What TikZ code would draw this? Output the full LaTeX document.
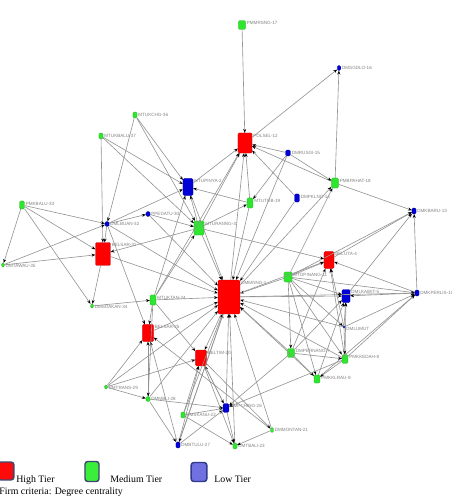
\documentclass[tikz,border=0pt]{standalone}
\usepackage{fontspec}
\setmainfont{Liberation Serif}
\setsansfont{Liberation Sans}
\usetikzlibrary{arrows.meta}
\begin{document}
\begin{tikzpicture}[x=0.02cm, y=-0.02cm,
  sz/.style 2 args={minimum width=#1, minimum height=#2},
  firm/.style={rectangle, rounded corners=0.7pt, inner sep=0pt, line width=0.15pt},
  hi/.style={firm, fill=tierhigh, draw=tierhigh!75!black},
  med/.style={firm, fill=tiermed, draw=tiermed!75!black},
  lo/.style={firm, fill=tierlow, draw=tierlow!75!black},
  lbl/.style={font=\sffamily\fontsize{2.6}{3}\selectfont, text=gray, inner sep=0.5pt, anchor=north west},
  link/.style={draw=gray!85, line width=0.35pt, -{Stealth[length=2.2pt,width=1.7pt,black]}},
  key/.style={rectangle, rounded corners=1.6pt, line width=0.8pt},
  keytext/.style={font=\fontsize{5.6}{6}\selectfont, anchor=base west, inner sep=0pt}]
\definecolor{tierhigh}{RGB}{255,0,0}
\definecolor{tiermed}{RGB}{45,230,45}
\definecolor{tierlow}{RGB}{0,0,215}
\definecolor{keyhigh}{RGB}{255,10,10}
\definecolor{keymed}{RGB}{60,238,60}
\definecolor{keylow}{RGB}{112,112,226}
\definecolor{keyedge}{RGB}{60,70,110}
\useasboundingbox (0,0) rectangle (451,496);
\node[hi, sz={12.5pt}{19.3pt}, label={[lbl]north east:DMMNNG-1}] (dmmnng) at (229,297) {};
\node[hi, sz={8pt}{11.4pt}, label={[lbl]north east:POLSEL-12}] (polsel) at (245,143) {};
\node[hi, sz={8.5pt}{13pt}, label={[lbl]north east:BELSAR-31}] (belsar31) at (103,254) {};
\node[hi, sz={6.3pt}{9.7pt}, label={[lbl]north east:BELSAR-25}] (belsar25) at (148,333) {};
\node[hi, sz={6.3pt}{9.1pt}, label={[lbl]north east:BELTIM-20}] (beltim) at (201,358) {};
\node[hi, sz={5.7pt}{9.7pt}, label={[lbl]north east:BELUTA-4}] (beluta) at (329,260) {};
\node[lo, sz={5.7pt}{9.7pt}, label={[lbl]north east:MTUPINYA-2}] (mtupinya) at (188,187) {};
\node[lo, sz={4.6pt}{7.4pt}, label={[lbl]north east:DMLKAWIT-5}] (dmlkawit) at (346,296) {};
\node[lo, sz={3.4pt}{5.1pt}, label={[lbl]north east:DMPCHING-26}] (dmpching) at (226,408) {};
\node[lo, sz={2.8pt}{4.6pt}, label={[lbl]north east:DMPKLNG-14}] (dmpklng) at (297,198) {};
\node[lo, sz={2.8pt}{3.4pt}, label={[lbl]north east:DMRUSGI-15}] (dmrusgi) at (288,153) {};
\node[lo, sz={2pt}{2.8pt}, label={[lbl]north east:DMSGDLO-16}] (dmsgdlo) at (339,68) {};
\node[lo, sz={2.3pt}{3.4pt}, label={[lbl]north east:DMKBARU-13}] (dmkbaru) at (414,211) {};
\node[lo, sz={2.3pt}{3.4pt}, label={[lbl]north east:DMKPERLIS-10}] (dmkperlis) at (417,293) {};
\node[lo, sz={2.3pt}{2.8pt}, label={[lbl]north east:DMLBUAN-32}] (dmlbuan) at (107,224) {};
\node[lo, sz={2.3pt}{2.8pt}, label={[lbl]north east:PPEDATU-30}] (ppedatu) at (148,214) {};
\node[lo, sz={2.3pt}{3.4pt}, label={[lbl]north east:DMBTULU-27}] (dmbtulu) at (178,445) {};
\node[lo, sz={1.2pt}{1.2pt}, label={[lbl]north east:DMLUMUT}] (dmlumut) at (344,327) {};
\node[med, sz={5.7pt}{8pt}, label={[lbl]north east:MTURANNG-3}] (mturanng) at (199,228) {};
\node[med, sz={4.6pt}{5.7pt}, label={[lbl]north east:MTOPINANG-11}] (mtopinang) at (288,277) {};
\node[med, sz={4pt}{5.1pt}, label={[lbl]north east:PMMRSNG-17}] (pmmrsng) at (242,25) {};
\node[med, sz={4pt}{5.7pt}, label={[lbl]north east:PMBPAHAT-18}] (pmbpahat) at (335,183) {};
\node[med, sz={3.4pt}{5.7pt}, label={[lbl]north east:MTUTOB-19}] (mtutob) at (250,203) {};
\node[med, sz={3.4pt}{5.7pt}, label={[lbl]north east:MTUKTAN-24}] (mtuktan) at (153,300) {};
\node[med, sz={4pt}{5.1pt}, label={[lbl]north east:DMPERNANG-7}] (dmpernang) at (291,353) {};
\node[med, sz={3.4pt}{5.1pt}, label={[lbl]north east:PMKKEDAH-8}] (pmkkedah) at (345,359) {};
\node[med, sz={3.4pt}{4.6pt}, label={[lbl]north east:PMKKLRAU-9}] (pmkklrau) at (317,379) {};
\node[med, sz={2.8pt}{4.6pt}, label={[lbl]north east:PMKBALU-33}] (pmkbalu) at (22,205) {};
\node[med, sz={2.3pt}{3.4pt}, label={[lbl]north east:MTUKCHG-36}] (mtukchg) at (135,115) {};
\node[med, sz={2.3pt}{3.4pt}, label={[lbl]north east:MTUKBALU-37}] (mtukbalu) at (101,136) {};
\node[med, sz={1.7pt}{2.3pt}, label={[lbl]north east:DMTAWAU-35}] (dmtawau) at (3,265) {};
\node[med, sz={1.7pt}{2.3pt}, label={[lbl]north east:DMSDAKAN-34}] (dmsdakan) at (92,306) {};
\node[med, sz={1.7pt}{2.3pt}, label={[lbl]north east:PMTRANS-29}] (pmtrans) at (106,387) {};
\node[med, sz={2.3pt}{2.8pt}, label={[lbl]north east:DMMBLI-28}] (dmmbli) at (148,399) {};
\node[med, sz={2.3pt}{3.4pt}, label={[lbl]north east:DMSKANU-22}] (dmskanu) at (183,415) {};
\node[med, sz={2.3pt}{3.4pt}, label={[lbl]north east:DMTBALI-23}] (dmtbali) at (235,446) {};
\node[med, sz={1.7pt}{2.8pt}, label={[lbl]north east:DMMONTAN-21}] (dmmontan) at (272,430) {};
\foreach \s in {mturanng, ppedatu, dmlbuan, belsar31, mtuktan, belsar25, mtopinang, dmpernang, pmkkedah, pmkklrau, dmlumut, dmpching, dmmontan, dmtbali, dmbtulu, dmskanu, pmtrans, mtutob, dmpklng, dmrusgi, mtupinya, dmmbli}
  \draw[link] (\s) -- (dmmnng);
\foreach \s in {pmmrsng, dmrusgi, pmbpahat, dmpklng, mtutob, mturanng, dmmnng, mtuktan, mtupinya}
  \draw[link] (\s) -- (polsel);
\foreach \s in {polsel, pmbpahat}
  \draw[link] (\s) -- (dmsgdlo);
\foreach \s in {dmrusgi, mtopinang, dmmnng}
  \draw[link] (\s) -- (pmbpahat);
\foreach \s in {pmbpahat, dmkperlis, beluta, dmlkawit, mtopinang}
  \draw[link] (\s) -- (dmkbaru);
\foreach \s in {dmkperlis, mtopinang, mturanng, dmlumut, pmkkedah, dmpernang, dmmnng}
  \draw[link] (\s) -- (beluta);
\foreach \s in {mtopinang, pmkkedah, dmlumut, pmkklrau, dmmnng}
  \draw[link] (\s) -- (dmkperlis);
\foreach \s in {dmmnng, mtopinang, dmkperlis, dmpernang, pmkkedah, pmkklrau, dmlumut}
  \draw[link] (\s) -- (dmlkawit);
\draw[link] (mtopinang) -- (dmlumut);
\foreach \s in {mtopinang, dmlumut, dmpernang}
  \draw[link] (\s) -- (pmkkedah);
\foreach \s in {dmpernang, pmkkedah, mtopinang}
  \draw[link] (\s) -- (pmkklrau);
\draw[link] (mtopinang) -- (dmpernang);
\foreach \s in {mtutob, mturanng, mtuktan, mtukbalu, mtukchg, dmlbuan}
  \draw[link] (\s) -- (mtupinya);
\foreach \s in {mtukbalu, mtukchg, mtuktan, ppedatu}
  \draw[link] (\s) -- (mturanng);
\foreach \s in {mturanng, dmrusgi}
  \draw[link] (\s) -- (mtutob);
\foreach \s in {mturanng, dmlbuan, pmkbalu, dmtawau, mtukbalu}
  \draw[link] (\s) -- (belsar31);
\foreach \s in {pmkbalu, dmtawau, mtukchg}
  \draw[link] (\s) -- (dmlbuan);
\draw[link] (dmlbuan) -- (ppedatu);
\foreach \s in {belsar31, pmkbalu}
  \draw[link] (\s) -- (dmsdakan);
\draw[link] (pmkbalu) -- (dmtawau);
\draw[link] (dmsdakan) -- (mtuktan);
\foreach \s in {dmmbli, pmtrans, mtuktan, dmlbuan, dmbtulu, dmmontan}
  \draw[link] (\s) -- (belsar25);
\foreach \s in {dmmnng, dmskanu, dmbtulu, dmpching, pmtrans, mtuktan}
  \draw[link] (\s) -- (beltim);
\foreach \s in {dmmbli, dmbtulu, dmskanu, pmkkedah, dmpernang, beltim}
  \draw[link] (\s) -- (dmpching);
\foreach \s in {dmmontan, dmskanu, dmpching, beltim}
  \draw[link] (\s) -- (dmtbali);
\foreach \s in {pmtrans, mtuktan}
  \draw[link] (\s) -- (dmmbli);
\draw[link] (beltim) -- (dmmontan);
\foreach \s in {dmmbli, dmmnng}
  \draw[link] (\s) -- (dmbtulu);
\node[key, fill=keyhigh, draw=keyedge, sz={9pt}{10.2pt}] (keyhigh) at (6,471) {};
\node[key, fill=keymed, draw=keyedge, sz={8pt}{11.4pt}] (keymed) at (92,471.5) {};
\node[key, fill=keylow, draw=keyedge!80!blue, sz={9pt}{10.8pt}] (keylow) at (199,472) {};
\node[keytext] (texthigh) at (16,482) {High Tier};
\node[keytext] (textmed) at (110,482) {Medium Tier};
\node[keytext] (textlow) at (214,482) {Low Tier};
\node[keytext] (criteria) at (-1,494) {Firm criteria: Degree centrality};
\end{tikzpicture}
\end{document}
